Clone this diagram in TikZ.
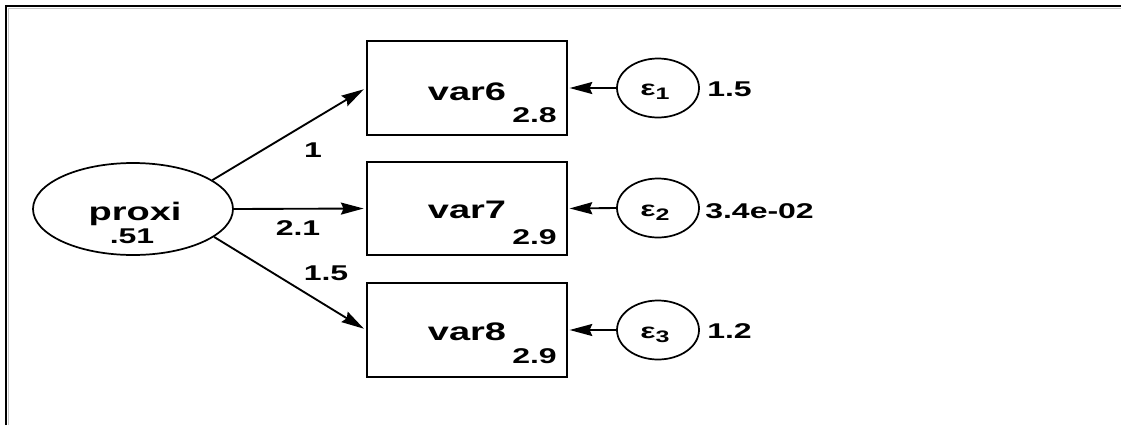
\documentclass[tikz,border=0pt]{standalone}
\usepackage{fontspec}
\setmainfont{Liberation Sans}[FakeStretch=1.5,BoldFeatures={FakeStretch=1.5}]
\usetikzlibrary{shapes.geometric,arrows.meta}
\begin{document}
\begin{tikzpicture}[x=0.75pt,y=-0.75pt,
  bigtxt/.style={font=\fontsize{19}{19}\selectfont\bfseries,inner sep=0pt},
  smalltxt/.style={font=\fontsize{16}{16}\selectfont\bfseries,inner sep=0pt},
  obs/.style={draw,line width=1.5pt,minimum width=150pt,minimum height=70pt,inner sep=0pt},
  lat/.style={draw,ellipse,line width=1.3pt,minimum width=150pt,minimum height=69pt,inner sep=0pt},
  err/.style={draw,ellipse,line width=1.3pt,minimum width=61.5pt,minimum height=44.25pt,inner sep=0pt},
  conn/.style={line width=1.4pt,-{Stealth[length=17pt,width=9pt,inset=2pt]},shorten >=1.8pt}]
\useasboundingbox (0,0) rectangle (1121,425);
% frame
\draw[gray!45,line width=0.9pt] (8.5,425) -- (8.5,8.5) -- (1121,8.5);
\draw[line width=1.6pt] (6,425) -- (6,6) -- (1121,6);
% latent
\node[lat] (proxi) at (133,209) {};
\node[bigtxt,anchor=base] (proxiname) at (135,220) {proxi};
\node[smalltxt,anchor=base] (proxivar) at (132,243) {.51};
% observed
\node[obs] (v6) at (467,88) {};
\node[bigtxt,anchor=base] (v6name) at (467,100) {var6};
\node[smalltxt,anchor=base east] (v6var) at (557,122) {2.8};
\node[obs] (v7) at (467,208.5) {};
\node[bigtxt,anchor=base] (v7name) at (467,218) {var7};
\node[smalltxt,anchor=base east] (v7var) at (557,244) {2.9};
\node[obs] (v8) at (467,330) {};
\node[bigtxt,anchor=base] (v8name) at (467,340) {var8};
\node[smalltxt,anchor=base east] (v8var) at (557,363) {2.9};
% errors
\node[err] (e1) at (658,88) {};
\node[smalltxt] (e1name) at (655,92) {ε\raisebox{-3pt}{\fontsize{12.5}{12.5}\selectfont 1}};
\node[smalltxt,anchor=west] (e1var) at (707,89) {1.5};
\node[err] (e2) at (658,208) {};
\node[smalltxt] (e2name) at (655,213) {ε\raisebox{-3pt}{\fontsize{12.5}{12.5}\selectfont 2}};
\node[smalltxt,anchor=west] (e2var) at (705,211) {3.4e-02};
\node[err] (e3) at (658,330) {};
\node[smalltxt] (e3name) at (655,335) {ε\raisebox{-3pt}{\fontsize{12.5}{12.5}\selectfont 3}};
\node[smalltxt,anchor=west] (e3var) at (707,331) {1.2};
% paths
\draw[conn] (proxi.20) -- (v6.west);
\draw[conn] (proxi.east) -- (v7.west);
\draw[conn] (proxi.-19) -- (v8.west);
\draw[conn,shorten >=1.2pt] (e1.west) -- (v6.east);
\draw[conn,shorten >=1.2pt] (e2.west) -- (v7.east);
\draw[conn,shorten >=1.2pt] (e3.west) -- (v8.east);
% coefficients
\node[smalltxt] (c1) at (313,150) {1};
\node[smalltxt] (c2) at (298,228) {2.1};
\node[smalltxt] (c3) at (326,273) {1.5};
\end{tikzpicture}
\end{document}
